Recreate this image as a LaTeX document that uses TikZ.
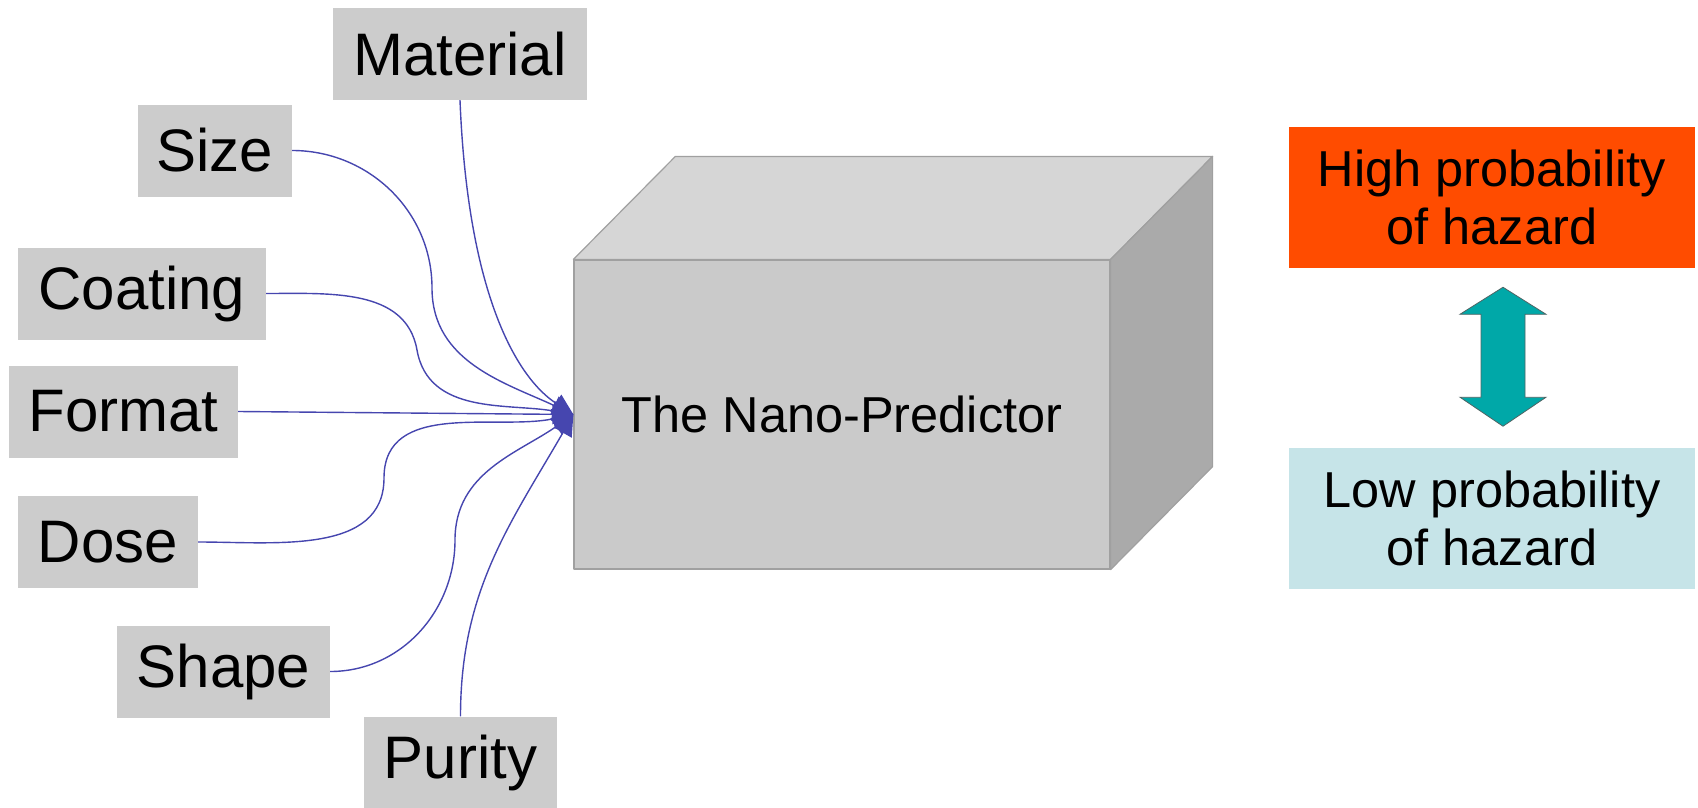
\documentclass[tikz,border=0pt]{standalone}
\usepackage{fontspec}
\setmainfont{Liberation Sans}
\usetikzlibrary{arrows.meta}
\usetikzlibrary{shapes}
\usetikzlibrary{calc}

\definecolor{labelgray}{RGB}{204,204,204}
\definecolor{frontgray}{RGB}{202,202,202}
\definecolor{topgray}{RGB}{214,214,214}
\definecolor{sidegray}{RGB}{170,170,170}
\definecolor{edgegray}{RGB}{160,160,160}
\definecolor{linkblue}{RGB}{70,70,175}
\definecolor{highred}{RGB}{255,76,0}
\definecolor{lowblue}{RGB}{198,228,232}
\definecolor{arrowteal}{RGB}{0,168,168}
\definecolor{arrowedge}{RGB}{80,100,100}

\begin{document}
\begin{tikzpicture}[x=1pt,y=-1pt,
		lbl/.style={fill=labelgray, inner sep=0pt, minimum height=92pt,
			font=\fontsize{60}{66}\selectfont},
		link/.style={draw=linkblue, line width=1.4pt,
			-{Triangle[length=21pt,width=20pt]}},
		face/.style={draw=edgegray, line width=1.2pt, line join=round},
		result/.style={inner sep=0pt, minimum width=406pt, minimum height=141pt,
			align=center, font=\fontsize{50.5}{58}\selectfont},
		updown/.style={fill=arrowteal, draw=arrowedge, line width=0.8pt,
			line join=miter}]
		\useasboundingbox (0,0) rectangle (1698,808);
		%% The Box
		\node[face, fill=frontgray, minimum width=536pt, minimum height=309pt,
			font=\fontsize{50.5}{60}\selectfont] (box) at (842,414.5) {The Nano-Predictor};
		\path 
			($(box.north west)+(102,-103)$) coordinate (b_nw)
			($(box.north east)+(102,-103)$) coordinate (b_ne)
			($(box.south east)+(102,-103)$) coordinate (b_se);
		\filldraw[face, fill=topgray] (box.north west) -- (b_nw) -- (b_ne)
			-- (box.north east) -- cycle;
		\filldraw[face, fill=sidegray] (box.north east) -- (b_ne) -- (b_se)
			-- (box.south east) -- cycle;
		%% The Inputs
		\node[lbl, minimum width=254pt] (mat) at (460,54)    {Material};
		\node[lbl, minimum width=154pt] (siz) at (215,150.5) {Size};
		\node[lbl, minimum width=248pt] (coa) at (142,293.5) {Coating};
		\node[lbl, minimum width=229pt] (fmt) at (123.5,411.5) {Format};
		\node[lbl, minimum width=180pt] (dos) at (108,542)   {Dose};
		\node[lbl, minimum width=213pt] (sha) at (223.5,671.5) {Shape};
		\node[lbl, minimum width=193pt] (pur) at (460.5,762.5) {Purity};
		%% Bends of the connectors
		\path 
			(box.west)  coordinate (tip)
			(432,288)   coordinate (w_siz)
			(417,350)   coordinate (w_coa)
			(384,478)   coordinate (w_dos)
			(455,540)   coordinate (w_sha);
		%% Connecting the inputs
		\draw[link] (mat.south) .. controls +(8,200) and +(-54,-35) .. (tip);
		\draw[link] (siz.east) to[out=0,in=90] (w_siz) to[out=-90,in=155] (tip);
		\draw[link] (coa.east) to[out=0,in=100] (w_coa) to[out=-80,in=170] (tip);
		\draw[link] (fmt.east) -- (tip);
		\draw[link] (dos.east) to[out=0,in=-90] (w_dos) to[out=90,in=-168] (tip);
		\draw[link] (sha.east) to[out=0,in=-90] (w_sha) to[out=90,in=-145] (tip);
		\draw[link] (pur.north) to[out=90,in=-120] (tip);
		%% The Outputs
		\node[result, fill=highred] (high) at (1492,197.5) {High probability\\of hazard};
		\node[result, fill=lowblue] (low)  at (1492,518)   {Low probability\\of hazard};
		%% Double arrow between the outputs
		\coordinate (ud) at ($(high.south)!0.5!(low.north)+(11,-1)$);
		\filldraw[updown] ($(ud)+(0,-69.5)$) -- ++(43,27) -- ++(-21,0)
			-- ++(0,83) -- ++(21,0) -- ++(-43,29) -- ++(-43,-29) -- ++(21,0)
			-- ++(0,-83) -- ++(-21,0) -- cycle;
	\end{tikzpicture}
\end{document}
